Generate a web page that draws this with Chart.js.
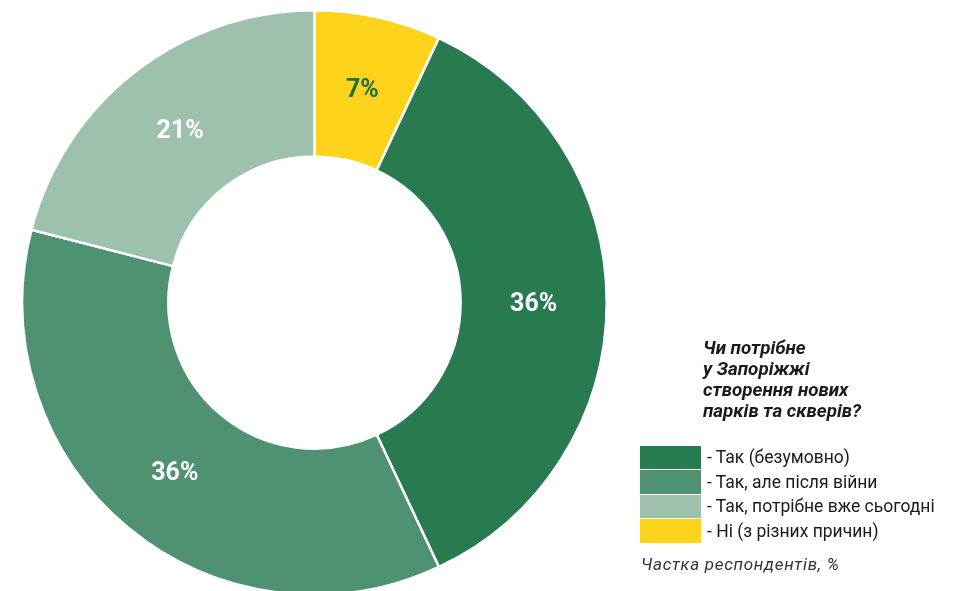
<!DOCTYPE html>
<html>
<head>
<meta charset="utf-8">
<script src="https://cdn.jsdelivr.net/npm/chart.js@4.4.0/dist/chart.umd.min.js"></script>
<style>
  html, body { margin: 0; padding: 0; background: #fff; overflow: hidden; }
  #wrap { position: relative; width: 955px; height: 600px; }
  #grafico { position: absolute; left: 0; top: 0; }
  #titulo { position: absolute; left: 703px; top: 338px; font-family: Roboto, sans-serif;
    font-weight: bold; font-style: italic; font-size: 18.8px; line-height: 21px; color: #1a1a1a; }
  #leyenda { position: absolute; left: 640px; top: 445px; font-family: Roboto, sans-serif; font-size: 17.5px; color: #1a1a1a; }
  .fila { display: flex; align-items: center; height: 24.5px; }
  .caja { width: 61px; height: 23.5px; margin-right: 6px; }
  #nota { position: absolute; left: 641px; top: 554px; font-family: Roboto, sans-serif;
    font-style: italic; font-size: 17px; letter-spacing: 0.7px; color: #333; }
</style>
</head>
<body>
<div id="wrap">
  <canvas id="grafico" width="955" height="600"></canvas>
  <div id="titulo">Чи потрібне<br>у Запоріжжі<br>створення нових<br>парків та скверів?</div>
  <div id="leyenda"></div>
  <div id="nota">Частка респондентів, %</div>
</div>
<script>
// orden en sentido horario desde arriba
const categorias = ['- Ні (з різних причин)', '- Так (безумовно)', '- Так, але після війни', '- Так, потрібне вже сьогодні'];
const valores = [7, 36, 36, 21];
const colores = ['#fdd31c', '#287a50', '#4f9271', '#9dc1ad'];
const coloresEtiqueta = ['#1f6e3c', '#ffffff', '#ffffff', '#ffffff'];
const ordenLeyenda = [1, 2, 3, 0];

// leyenda html
const leyenda = document.getElementById('leyenda');
ordenLeyenda.forEach(function (i) {
    const fila = document.createElement('div');
    fila.className = 'fila';
    fila.innerHTML = '<div class="caja" style="background:' + colores[i] + '"></div><span>' + categorias[i] + '</span>';
    leyenda.appendChild(fila);
});

const etiquetas = {
    id: 'etiquetas',
    afterDatasetsDraw(chart) {
        const ctx = chart.ctx;
        const meta = chart.getDatasetMeta(0);
        ctx.save();
        ctx.font = 'bold 25px Roboto, sans-serif';
        ctx.textAlign = 'center';
        ctx.textBaseline = 'middle';
        meta.data.forEach(function (arc, i) {
            const p = arc.tooltipPosition();
            ctx.fillStyle = coloresEtiqueta[i];
            ctx.fillText(valores[i] + '%', p.x, p.y + 2);
        });
        ctx.restore();
    }
};

const ctx_g = document.getElementById('grafico');
new Chart(ctx_g, {
    type: 'doughnut',
    data: {
        labels: categorias,
        datasets: [{
            data: valores,
            backgroundColor: colores,
            borderColor: '#ffffff',
            borderWidth: 2.5
        }]
    },
    options: {
        responsive: false,
        animation: false,
        cutout: '50%',
        layout: { padding: { left: 21, right: 347, top: 9, bottom: 4 } },
        plugins: {
            legend: { display: false },
            tooltip: { enabled: false }
        }
    },
    plugins: [etiquetas]
});
</script>
</body>
</html>
